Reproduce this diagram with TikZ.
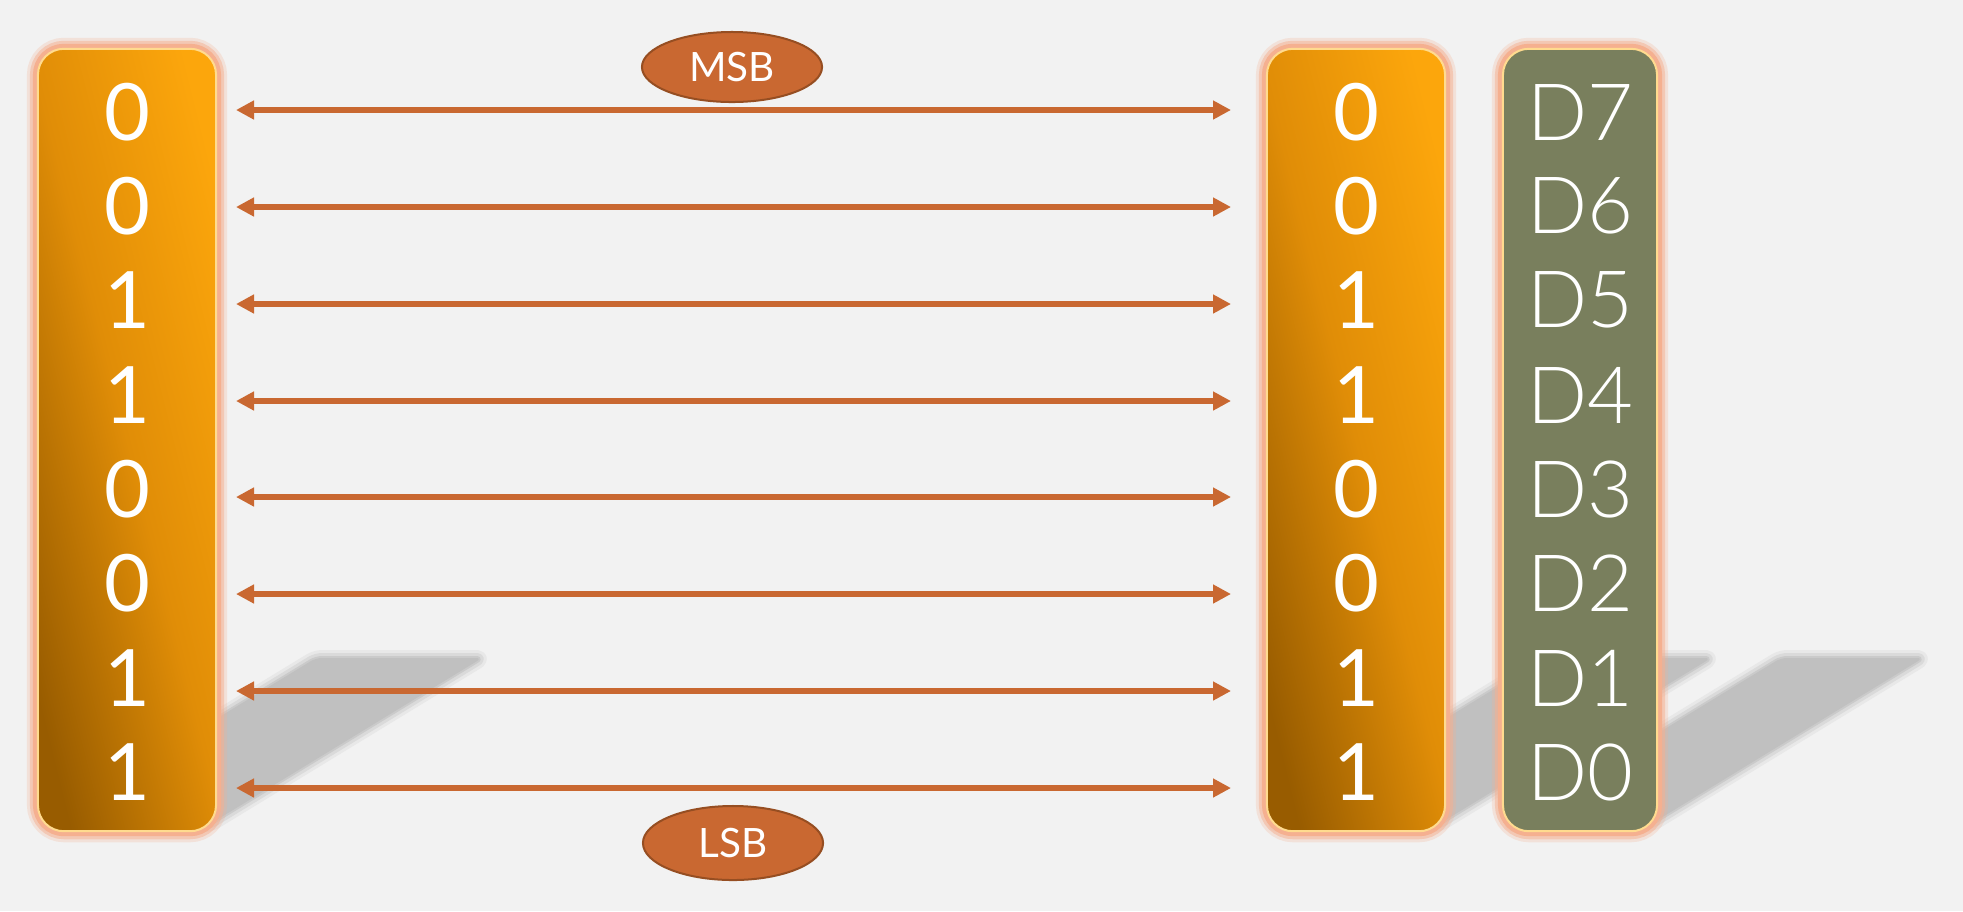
\documentclass[tikz,border=0pt]{standalone}
\usepackage{fontspec}
\setmainfont{Lato}
\newfontfamily\thinfont{Lato Light}
\usetikzlibrary{arrows.meta,shapes.geometric}
\definecolor{bg}{HTML}{F2F2F2}
\definecolor{arrowc}{RGB}{201,104,49}
\definecolor{ellborder}{RGB}{150,78,34}
\definecolor{glowc}{HTML}{F5B090}
\definecolor{rimc}{HTML}{FFDB8F}
\definecolor{orbright}{HTML}{FCA60C}
\definecolor{ormid}{HTML}{E08D07}
\definecolor{ordark}{HTML}{985C00}
\definecolor{greenc}{RGB}{121,127,93}
\definecolor{shadowc}{HTML}{C0C0C0}
\begin{document}
\begin{tikzpicture}[x=0.01cm,y=-0.01cm,
  box/.style={rectangle, rounded corners=0.26cm, minimum height=7.82cm, inner sep=0pt,
    draw=rimc, line width=0.02cm,
    preaction={draw=glowc, line width=0.22cm, draw opacity=0.25},
    preaction={draw=glowc, line width=0.16cm, draw opacity=0.5},
    preaction={draw=glowc, line width=0.1cm}},
  orangebox/.style={box, minimum width=1.78cm, shading=axis, bottom color=ordark,
    top color=orbright, middle color=ormid, shading angle=-76},
  greenbox/.style={box, minimum width=1.54cm, fill=greenc},
  digit/.style={text=white, inner sep=0pt, font=\fontsize{22.5}{22.5}\selectfont},
  dlabel/.style={text=white, inner sep=0pt, font=\thinfont\fontsize{22.5}{22.5}\selectfont},
  tag/.style={ellipse, draw=ellborder, fill=arrowc, line width=0.02cm, inner sep=0pt,
    minimum width=1.8cm, text=white, font=\fontsize{11.5}{12}\selectfont},
  arr/.style={{Triangle[length=0.18cm,width=0.18cm]}-{Triangle[length=0.18cm,width=0.18cm]},
    line width=0.065cm, draw=arrowc},
  shad/.style={line join=round, rounded corners=0.06cm}
]
\useasboundingbox (0,0) rectangle (1963,911);
\fill[bg] (0,0) rectangle (1963,911);

% shadows (soft edges from stacked translucent strokes)
\foreach \xa/\xb in {44/210, 1273/1439, 1509/1651} {
  \draw[shad, draw=shadowc, line width=0.16cm, draw opacity=0.2]
    (\xa,824) -- (\xb,824) -- ({\xb+272},658) -- ({\xa+272},658) -- cycle;
  \draw[shad, draw=shadowc, line width=0.1cm, draw opacity=0.35]
    (\xa,824) -- (\xb,824) -- ({\xb+272},658) -- ({\xa+272},658) -- cycle;
  \draw[shad, draw=shadowc, fill=shadowc, line width=0.04cm, draw opacity=0.6]
    (\xa,824) -- (\xb,824) -- ({\xb+272},658) -- ({\xa+272},658) -- cycle;
}

% boxes
\node[orangebox] (left) at (127,440) {};
\node[orangebox] (mid) at (1356,440) {};
\node[greenbox] (reg) at (1580,440) {};

% bits and labels
\foreach \i/\y/\b/\d in {1/112/0/7, 2/206/0/6, 3/300/1/5, 4/395/1/4,
                         5/489/0/3, 6/583/0/2, 7/678/1/1, 8/772/1/0} {
  \node[digit] (l\i) at (127,\y) {\b};
  \node[digit] (m\i) at (1356,\y) {\b};
  \node[dlabel] (g\i) at (1580,\y) {D\d};
}

% arrows
\foreach \i/\y in {1/110, 2/207, 3/304, 4/401, 5/497, 6/594, 7/691, 8/788} {
  \coordinate (la\i) at (236,\y);
  \coordinate (ra\i) at (1231,\y);
  \draw[arr] (la\i) -- (ra\i);
}

% tags
\node[tag, minimum height=0.7cm] (msb) at (732,67) {MSB};
\node[tag, minimum height=0.74cm] (lsb) at (733,843) {LSB};
\end{tikzpicture}
\end{document}
